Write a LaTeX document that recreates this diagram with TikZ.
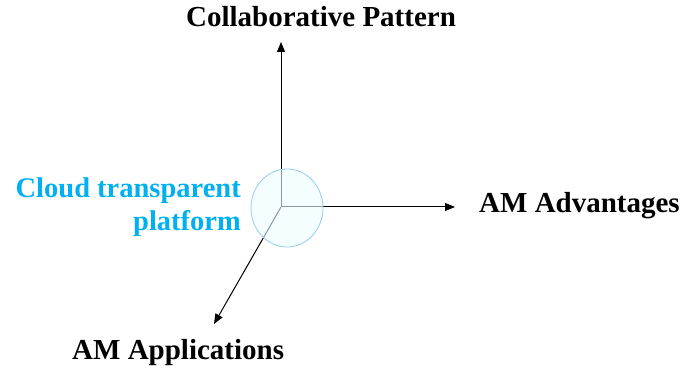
\documentclass[tikz,border=0pt]{standalone}
\usepackage{fontspec}
\setmainfont{Liberation Serif}
\usetikzlibrary{arrows.meta,shapes.geometric}
\definecolor{cloudblue}{RGB}{0,176,240}
\definecolor{circfill}{RGB}{236,252,255}
\definecolor{circdraw}{RGB}{150,205,235}
\begin{document}
\begin{tikzpicture}[x=1pt,y=1pt,
  axis/.style={line width=1pt,draw=black,-{Triangle[length=10pt,width=8pt]}},
  lbl/.style={inner sep=0pt,font=\bfseries\fontsize{29}{33}\selectfont},
  cloudlbl/.style={inner sep=0pt,align=right,text=cloudblue,font=\bfseries\fontsize{28.5}{33}\selectfont}]
\useasboundingbox (0,0) rectangle (695,369);
\coordinate (O) at (281,162);
\coordinate (up) at (281,327);
\coordinate (right) at (455,162);
\coordinate (diag) at (214,45);
\draw[axis] (O) -- (up);
\draw[axis] (O) -- (right);
\draw[axis] (O) -- (diag);
\node[draw=circdraw,line width=0.8pt,fill=circfill,fill opacity=0.6,ellipse,minimum width=72pt,minimum height=78pt,inner sep=0pt] (circ) at (287,161) {};
\node[lbl,anchor=base] (collab) at (321,342) {Collaborative Pattern};
\node[lbl,anchor=base west] (adv) at (479,156) {AM Advantages};
\node[lbl,anchor=base west] (app) at (72,10) {AM Applications};
\node[cloudlbl,anchor=base east] (cloud) at (241,138) {Cloud transparent\\platform};
\end{tikzpicture}
\end{document}
